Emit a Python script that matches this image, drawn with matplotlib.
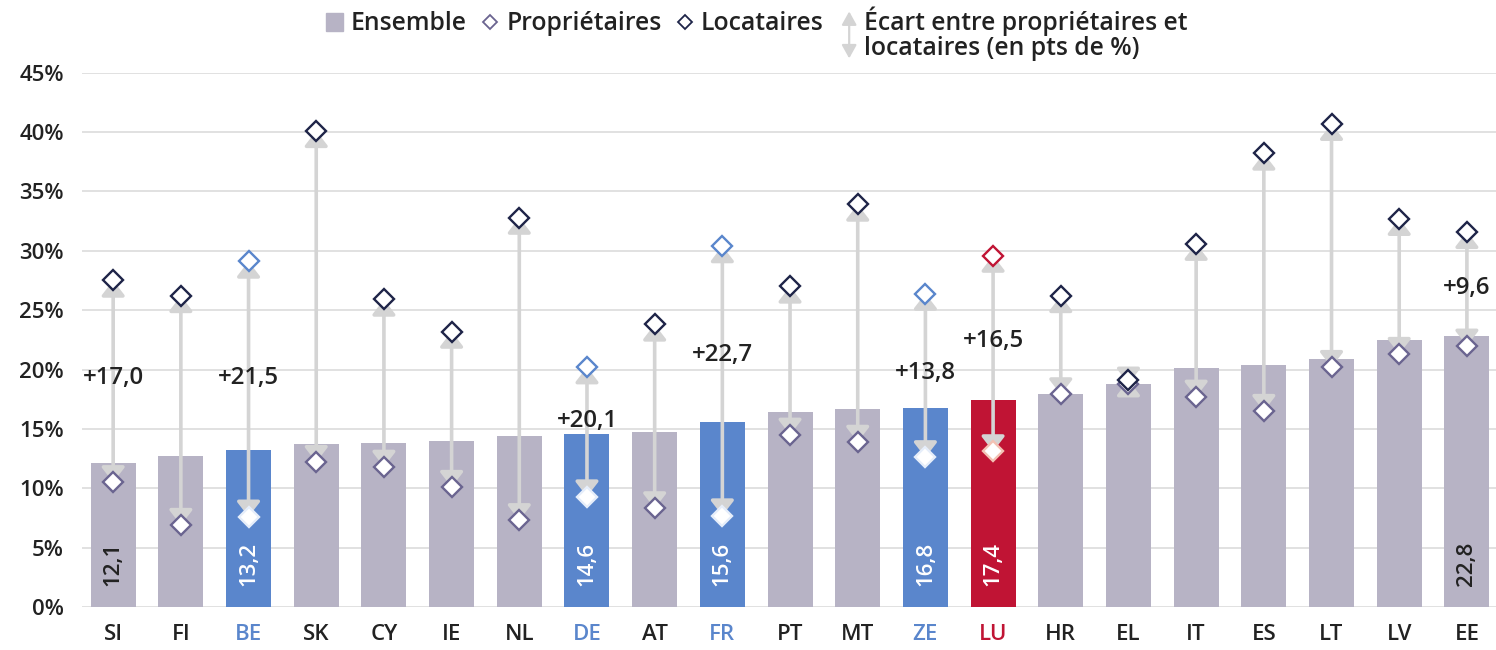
import matplotlib
matplotlib.use("Agg")
from matplotlib import pyplot as plt
from matplotlib.patches import Patch, FancyArrowPatch
from matplotlib.lines import Line2D
from matplotlib.legend_handler import HandlerBase
from matplotlib.ticker import FuncFormatter

plt.rcParams['font.family'] = ['Open Sans', 'DejaVu Sans']
plt.rcParams['font.weight'] = 'semibold'

# données (taux en %)
pays = ['SI', 'FI', 'BE', 'SK', 'CY', 'IE', 'NL', 'DE', 'AT', 'FR', 'PT',
        'MT', 'ZE', 'LU', 'HR', 'EL', 'IT', 'ES', 'LT', 'LV', 'EE']
ensemble = [12.1, 12.7, 13.2, 13.7, 13.8, 14.0, 14.4, 14.6, 14.7, 15.6, 16.4,
            16.7, 16.8, 17.4, 17.9, 18.8, 20.1, 20.4, 20.9, 22.5, 22.8]
proprietaires = [10.5, 6.9, 7.6, 12.2, 11.8, 10.1, 7.3, 9.3, 8.3, 7.7, 14.5,
                 13.9, 12.6, 13.1, 17.9, 18.8, 17.7, 16.5, 20.2, 21.3, 22.0]
locataires = [27.5, 26.2, 29.1, 40.1, 25.9, 23.2, 32.8, 20.2, 23.8, 30.4, 27.0,
              33.9, 26.4, 29.6, 26.2, 19.1, 30.6, 38.2, 40.7, 32.7, 31.6]

# écarts affichés
ecart_txt = {'SI': '+17,0', 'BE': '+21,5', 'DE': '+20,1', 'FR': '+22,7',
             'ZE': '+13,8', 'LU': '+16,5', 'EE': '+9,6'}
ecart_y = {'SI': 19.3, 'BE': 19.3, 'DE': 15.7, 'FR': 21.2,
           'ZE': 19.7, 'LU': 22.4, 'EE': 26.9}
valeur_visible = ['SI', 'BE', 'DE', 'FR', 'ZE', 'LU', 'EE']

GRIS = '#b7b3c5'
BLEU = '#5a86cc'
ROUGE = '#c01434'
FLECHE = '#d4d4d4'
NAVY = '#1e2448'
VIOLET = '#6a6490'
TXT = '#222222'

couleur_barre = {'BE': BLEU, 'DE': BLEU, 'FR': BLEU, 'ZE': BLEU, 'LU': ROUGE}

fig = plt.figure(figsize=(14.96, 6.5), dpi=100)
ax = fig.add_axes([81.7 / 1496, 1 - 607 / 650, 1 - 81.7 / 1496, (607 - 72.7) / 650])

x = list(range(len(pays)))
cols = [couleur_barre.get(p, GRIS) for p in pays]
ax.bar(x, ensemble, width=0.665, color=cols, zorder=2)

fs = 16
for i, p in enumerate(pays):
    ax.annotate('', xy=(i, locataires[i]), xytext=(i, proprietaires[i]),
                arrowprops=dict(arrowstyle='<|-|>,head_length=0.9,head_width=0.7',
                                mutation_scale=10, color=FLECHE, lw=2.6,
                                shrinkA=0, shrinkB=0), zorder=3)
    c = couleur_barre.get(p)
    if c is None:
        e_loc, e_pro = NAVY, VIOLET
    elif c == BLEU:
        e_loc, e_pro = BLEU, '#e6eefa'
    else:
        e_loc, e_pro = ROUGE, '#f3c2b4'
    ax.plot(i, proprietaires[i], marker='D', ms=10.3, mfc='white', mec=e_pro,
            mew=1.7, zorder=4)
    ax.plot(i, locataires[i], marker='D', ms=10.3, mfc='white', mec=e_loc,
            mew=1.7, zorder=4)
    if p in ecart_txt:
        ax.text(i, ecart_y[p], ecart_txt[p], ha='center', va='center',
                fontsize=17.3, color=TXT, zorder=5)
    if p in valeur_visible:
        ax.text(i, 1.8, f'{ensemble[i]:.1f}'.replace('.', ','), rotation=90,
                ha='center', va='bottom', fontsize=fs,
                color='white' if c else TXT, zorder=5)

ax.set_ylim(0, 45)
ax.set_xlim(-0.465, 20.43)
ax.set_yticks(range(0, 46, 5))
ax.yaxis.set_major_formatter(FuncFormatter(lambda v, pos: f'{v:.0f}%'))
ax.set_xticks(x)
ax.set_xticklabels(pays)
ax.tick_params(axis='both', length=0, labelsize=fs, labelcolor=TXT)
ax.tick_params(axis='y', pad=13)
ax.tick_params(axis='x', pad=12)
for lab, p in zip(ax.get_xticklabels(), pays):
    if p in couleur_barre:
        lab.set_color(couleur_barre[p])
for s in ax.spines.values():
    s.set_visible(False)
ax.grid(axis='y', color='#dcdcdc', lw=1.2, zorder=0)
ax.set_axisbelow(True)


class FlecheHandler(HandlerBase):
    def create_artists(self, legend, orig_handle, xdescent, ydescent,
                       width, height, fontsize, trans):
        cx = width / 2 - xdescent
        cy = height / 2 - ydescent
        a = FancyArrowPatch((cx, cy - 0.95 * fontsize), (cx, cy + 0.95 * fontsize),
                            arrowstyle='<|-|>,head_length=0.45,head_width=0.25',
                            mutation_scale=fontsize, color=FLECHE, lw=1.6,
                            shrinkA=0, shrinkB=0, transform=trans)
        return [a]


lfs = 17.8
h_ens = Patch(color=GRIS)
h_pro = Line2D([], [], ls='', marker='D', ms=7.5, mfc='white', mec=VIOLET, mew=1.3)
h_loc = Line2D([], [], ls='', marker='D', ms=7.5, mfc='white', mec=NAVY, mew=1.3)
leg1 = fig.legend([h_ens, h_pro, h_loc], ['Ensemble', 'Propriétaires', 'Locataires'],
                  loc='center left', bbox_to_anchor=(326 / 1496, 1 - 24 / 650),
                  ncol=3, frameon=False, fontsize=lfs, handlelength=0.7,
                  handleheight=0.7, handletextpad=0.3, columnspacing=0.6,
                  borderpad=0, borderaxespad=0)
h_ecart = object()
leg2 = fig.legend([h_ecart], ['Écart entre propriétaires et\nlocataires (en pts de %)'],
                  handler_map={object: FlecheHandler()},
                  loc='center left', bbox_to_anchor=(843 / 1496, 1 - 34 / 650),
                  frameon=False, fontsize=lfs, handlelength=0.5, handleheight=0.8,
                  handletextpad=0.35, borderpad=0, borderaxespad=0)
for t in leg1.get_texts():
    t.set_color(TXT)
for t in leg2.get_texts():
    t.set_color(TXT)
    t.set_linespacing(1.0)

plt.savefig('out.png', dpi=100)
